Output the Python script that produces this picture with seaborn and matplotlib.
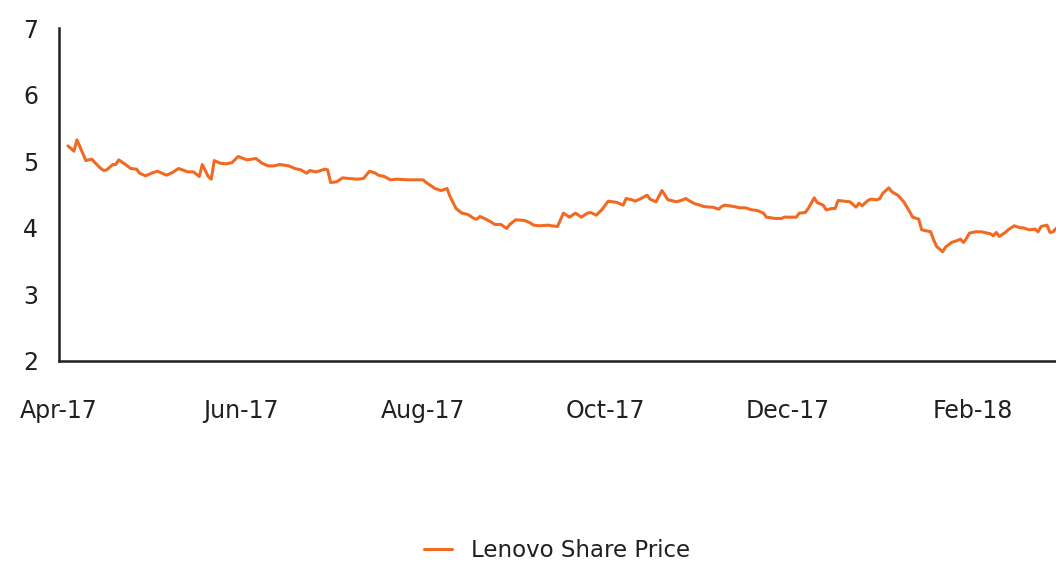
import numpy as np
import pandas as pd
import matplotlib
matplotlib.use('Agg')
import matplotlib.pyplot as plt
import matplotlib.dates as mdates
import seaborn as sns

# values
dates = [
    '2017-04-04', '2017-04-06', '2017-04-07', '2017-04-10', '2017-04-12', '2017-04-13',
    '2017-04-15', '2017-04-16', '2017-04-17', '2017-04-19', '2017-04-20', '2017-04-21',
    '2017-04-23', '2017-04-25', '2017-04-27', '2017-04-28', '2017-04-30', '2017-05-02',
    '2017-05-04', '2017-05-05', '2017-05-07', '2017-05-09', '2017-05-11', '2017-05-13',
    '2017-05-14', '2017-05-16', '2017-05-18', '2017-05-19', '2017-05-21', '2017-05-22',
    '2017-05-23', '2017-05-25', '2017-05-27', '2017-05-29', '2017-05-31', '2017-06-03',
    '2017-06-06', '2017-06-08', '2017-06-10', '2017-06-12', '2017-06-14', '2017-06-17',
    '2017-06-19', '2017-06-21', '2017-06-23', '2017-06-24', '2017-06-26', '2017-06-27',
    '2017-06-29', '2017-06-30', '2017-07-01', '2017-07-03', '2017-07-05', '2017-07-07',
    '2017-07-10', '2017-07-12', '2017-07-14', '2017-07-16', '2017-07-17', '2017-07-19',
    '2017-07-21', '2017-07-23', '2017-07-27', '2017-08-01', '2017-08-02', '2017-08-04',
    '2017-08-05', '2017-08-07', '2017-08-09', '2017-08-10', '2017-08-12', '2017-08-14',
    '2017-08-16', '2017-08-18', '2017-08-19', '2017-08-20', '2017-08-22', '2017-08-24',
    '2017-08-25', '2017-08-27', '2017-08-29', '2017-08-30', '2017-09-01', '2017-09-04',
    '2017-09-06', '2017-09-07', '2017-09-09', '2017-09-12', '2017-09-13', '2017-09-15',
    '2017-09-17', '2017-09-19', '2017-09-21', '2017-09-23', '2017-09-25', '2017-09-26',
    '2017-09-28', '2017-09-30', '2017-10-02', '2017-10-05', '2017-10-07', '2017-10-08',
    '2017-10-10', '2017-10-11', '2017-10-13', '2017-10-15', '2017-10-16', '2017-10-18',
    '2017-10-20', '2017-10-22', '2017-10-25', '2017-10-27', '2017-10-28', '2017-10-29',
    '2017-10-31', '2017-11-01', '2017-11-03', '2017-11-05', '2017-11-06', '2017-11-08',
    '2017-11-09', '2017-11-10', '2017-11-13', '2017-11-15', '2017-11-17', '2017-11-19',
    '2017-11-21', '2017-11-23', '2017-11-24', '2017-11-27', '2017-11-29', '2017-11-30',
    '2017-12-03', '2017-12-04', '2017-12-05', '2017-12-07', '2017-12-08', '2017-12-10',
    '2017-12-11', '2017-12-13', '2017-12-14', '2017-12-16', '2017-12-17', '2017-12-18',
    '2017-12-20', '2017-12-22', '2017-12-24', '2017-12-25', '2017-12-26', '2017-12-28',
    '2017-12-29', '2017-12-31', '2018-01-01', '2018-01-02', '2018-01-04', '2018-01-05',
    '2018-01-07', '2018-01-09', '2018-01-11', '2018-01-12', '2018-01-14', '2018-01-15',
    '2018-01-16', '2018-01-18', '2018-01-19', '2018-01-20', '2018-01-22', '2018-01-23',
    '2018-01-25', '2018-01-27', '2018-01-28', '2018-01-29', '2018-01-30', '2018-01-31',
    '2018-02-02', '2018-02-04', '2018-02-05', '2018-02-07', '2018-02-08', '2018-02-09',
    '2018-02-10', '2018-02-12', '2018-02-13', '2018-02-15', '2018-02-17', '2018-02-18',
    '2018-02-20', '2018-02-22', '2018-02-23', '2018-02-24', '2018-02-26', '2018-02-27',
    '2018-02-28', '2018-03-01',
]
price = [
    5.23, 5.15, 5.32, 5.01, 5.03, 4.98,
    4.89, 4.86, 4.87, 4.95, 4.95, 5.02,
    4.96, 4.89, 4.88, 4.82, 4.78, 4.82,
    4.85, 4.83, 4.79, 4.83, 4.89, 4.86,
    4.84, 4.84, 4.77, 4.95, 4.77, 4.73,
    5.01, 4.97, 4.96, 4.98, 5.07, 5.02,
    5.04, 4.97, 4.93, 4.93, 4.95, 4.93,
    4.89, 4.87, 4.82, 4.86, 4.84, 4.85,
    4.88, 4.87, 4.68, 4.69, 4.75, 4.74,
    4.73, 4.74, 4.85, 4.82, 4.79, 4.77,
    4.72, 4.73, 4.72, 4.72, 4.68, 4.62,
    4.59, 4.56, 4.59, 4.47, 4.29, 4.22,
    4.20, 4.14, 4.13, 4.17, 4.13, 4.08,
    4.05, 4.05, 3.99, 4.05, 4.12, 4.11,
    4.07, 4.04, 4.03, 4.04, 4.03, 4.02,
    4.22, 4.16, 4.22, 4.16, 4.22, 4.23,
    4.19, 4.28, 4.40, 4.38, 4.34, 4.44,
    4.42, 4.40, 4.44, 4.49, 4.43, 4.39,
    4.56, 4.42, 4.39, 4.42, 4.44, 4.41,
    4.36, 4.35, 4.32, 4.31, 4.31, 4.28,
    4.32, 4.34, 4.32, 4.30, 4.30, 4.27,
    4.26, 4.22, 4.16, 4.14, 4.14, 4.16,
    4.16, 4.16, 4.22, 4.23, 4.29, 4.45,
    4.38, 4.34, 4.27, 4.29, 4.29, 4.41,
    4.40, 4.39, 4.31, 4.37, 4.33, 4.41,
    4.43, 4.42, 4.44, 4.52, 4.60, 4.54,
    4.49, 4.39, 4.24, 4.16, 4.13, 3.97,
    3.96, 3.94, 3.82, 3.72, 3.64, 3.71,
    3.78, 3.81, 3.83, 3.78, 3.84, 3.92,
    3.94, 3.94, 3.93, 3.91, 3.88, 3.93,
    3.87, 3.93, 3.97, 4.03, 4.00, 4.00,
    3.97, 3.98, 3.94, 4.02, 4.04, 3.93,
    3.94, 3.99,
]
series_name = 'Lenovo Share Price'

df = pd.DataFrame({'date': pd.to_datetime(dates), 'price': price})

sns.set_style('white')
plt.rcParams['font.family'] = ['DejaVu Sans']

dark = '#231f20'
orange = '#f26a21'

fig = plt.figure(figsize=(10.56, 5.65), dpi=100)
ax = fig.add_axes([59 / 1056, 1 - 361 / 565, 1 - 59 / 1056, 333 / 565])

sns.lineplot(data=df, x='date', y='price', color=orange, linewidth=2.2,
             label=series_name, ax=ax)

ax.set_xlim(pd.Timestamp('2017-04-01'), pd.Timestamp('2018-03-01'))
ax.set_ylim(2, 7)
ax.set_yticks([2, 3, 4, 5, 6, 7])
ax.xaxis.set_major_locator(mdates.MonthLocator(bymonth=[2, 4, 6, 8, 10, 12]))
ax.xaxis.set_major_formatter(mdates.DateFormatter('%b-%y'))
ax.set_xlabel('')
ax.set_ylabel('')

for s in ['top', 'right']:
    ax.spines[s].set_visible(False)
for s in ['left', 'bottom']:
    ax.spines[s].set_color(dark)
    ax.spines[s].set_linewidth(1.8)

ax.tick_params(axis='x', direction='inout', length=13, width=1.2, color=dark,
               pad=21, labelsize=17, labelcolor=dark)
ax.tick_params(axis='y', length=0, pad=15, labelsize=17, labelcolor=dark)

leg = ax.legend(loc='center', bbox_to_anchor=(0.5, -0.57), frameon=False,
                fontsize=16.5, handlelength=1.2, handletextpad=0.85,
                borderaxespad=0, borderpad=0.2)
for t in leg.get_texts():
    t.set_color(dark)

fig.savefig('out.png', dpi=100)
